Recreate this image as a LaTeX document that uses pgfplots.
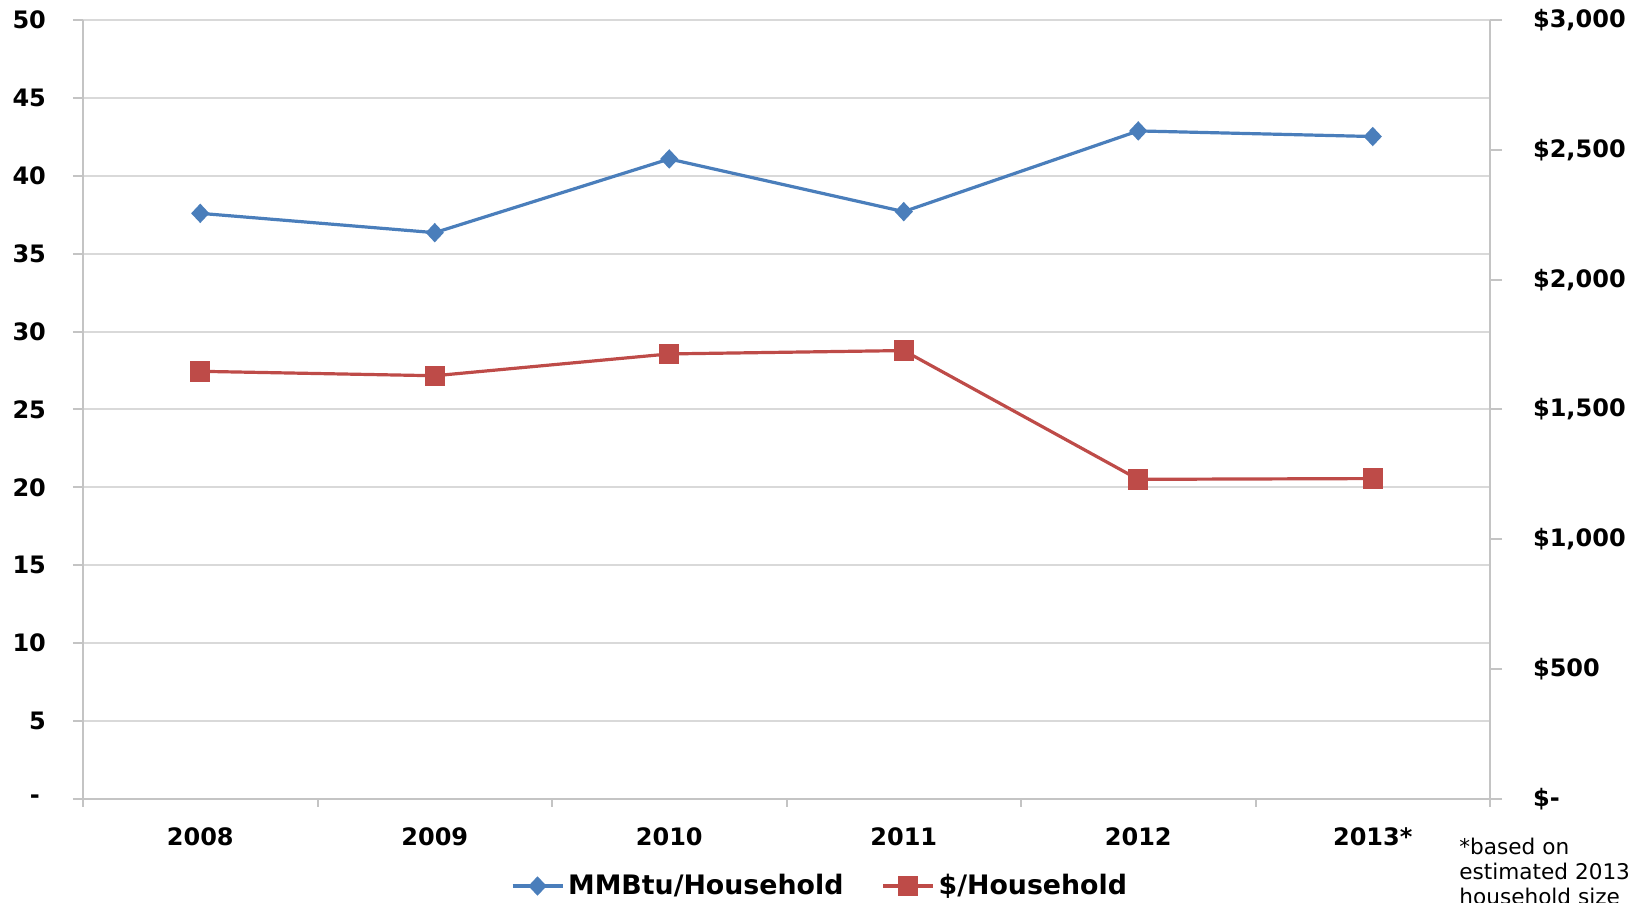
\documentclass[border=0pt]{standalone}
\usepackage{fontspec}
\setmainfont{DejaVu Sans}
\usepackage{pgfplots}
\pgfplotsset{compat=1.18}
\definecolor{blueS}{HTML}{4A7EBB}
\definecolor{redS}{HTML}{BE4B48}
\definecolor{gridc}{HTML}{D9D9D9}
\definecolor{axc}{HTML}{C4C4C4}
\begin{document}
\begin{tikzpicture}
\path[use as bounding box] (-41.5pt,-52pt) rectangle (779.5pt,399.5pt);
\begin{axis}[
  name=ax1, at={(0,0)}, anchor=south west,
  scale only axis, width=703.5pt, height=389.5pt,
  xmin=-0.5, xmax=5.5, ymin=0, ymax=50,
  axis x line=bottom, axis y line=left,
  axis line style={-, draw=axc, line width=1pt},
  xtick={0,...,5}, xticklabels={2008,2009,2010,2011,2012,2013*},
  minor xtick={-0.5,0.5,...,5.5},
  ytick={0,5,...,50}, yticklabels={{\makebox[8pt][l]{-}\kern0pt},5,10,15,20,25,30,35,40,45,50},
  ymajorgrids, major grid style={draw=gridc, line width=1pt},
  tick align=outside,
  major tick length=5pt, minor tick length=4pt,
  xtick style={draw=none},
  minor x tick style={draw=axc, line width=1pt},
  ytick style={draw=axc, line width=1pt},
  ticklabel style={font=\bfseries\fontsize{12}{14}\selectfont, text=black},
  yticklabel style={anchor=east, xshift=-10pt},
  xticklabel style={anchor=north, yshift=-6pt},
  clip=false,
]
\addplot[blueS, line width=1.6pt, mark=diamond*, mark size=3.7pt, mark options={xscale=1.25, solid}]
  coordinates {(0,37.59) (1,36.35) (2,41.08) (3,37.70) (4,42.88) (5,42.52)};
\end{axis}
\begin{axis}[
  at={(0,0)}, anchor=south west,
  scale only axis, width=703.5pt, height=389.5pt,
  xmin=-0.5, xmax=5.5, ymin=0, ymax=3000,
  axis x line=none, axis y line=right,
  axis line style={-, draw=axc, line width=1pt},
  ytick={0,500,...,3000},
  yticklabels={{\$-},{\$500},{\$1,000},{\$1,500},{\$2,000},{\$2,500},{\$3,000}},
  tick align=outside, major tick length=6pt,
  ytick style={draw=axc, line width=1pt},
  ticklabel style={font=\bfseries\fontsize{12}{14}\selectfont, text=black},
  yticklabel style={anchor=west, xshift=12pt},
  clip=false,
  legend columns=2,
  legend cell align=left,
  legend style={at={(0.5245,-0.1117)}, anchor=center, draw=none, fill=none,
    font=\bfseries\fontsize{13.4}{15}\selectfont,
    /tikz/every even column/.append style={column sep=17pt},
    inner sep=0pt},
  legend image code/.code={\draw[mark repeat=2, mark phase=2, #1] plot coordinates {(0pt,0pt) (12.5pt,0pt) (25pt,0pt)};},
]
\addlegendimage{blueS, line width=1.6pt, mark=diamond*, mark size=3.7pt, mark options={xscale=1.25, solid}}
\addlegendentry{MMBtu/Household}
\addplot[redS, line width=1.6pt, mark=square*, mark size=4.3pt, mark options={solid}]
  coordinates {(0,1647) (1,1630) (2,1714) (3,1727) (4,1231) (5,1234)};
\addlegendentry{\$/Household}
\end{axis}
\begin{scope}[font=\fontsize{10.8}{12.5}\selectfont]
\node[anchor=base west, inner sep=0pt] at (688pt,-28pt) {*based on};
\node[anchor=base west, inner sep=0pt] at (688pt,-40.5pt) {estimated 2013};
\node[anchor=base west, inner sep=0pt] at (688pt,-53pt) {household size};
\end{scope}
\end{tikzpicture}
\end{document}
